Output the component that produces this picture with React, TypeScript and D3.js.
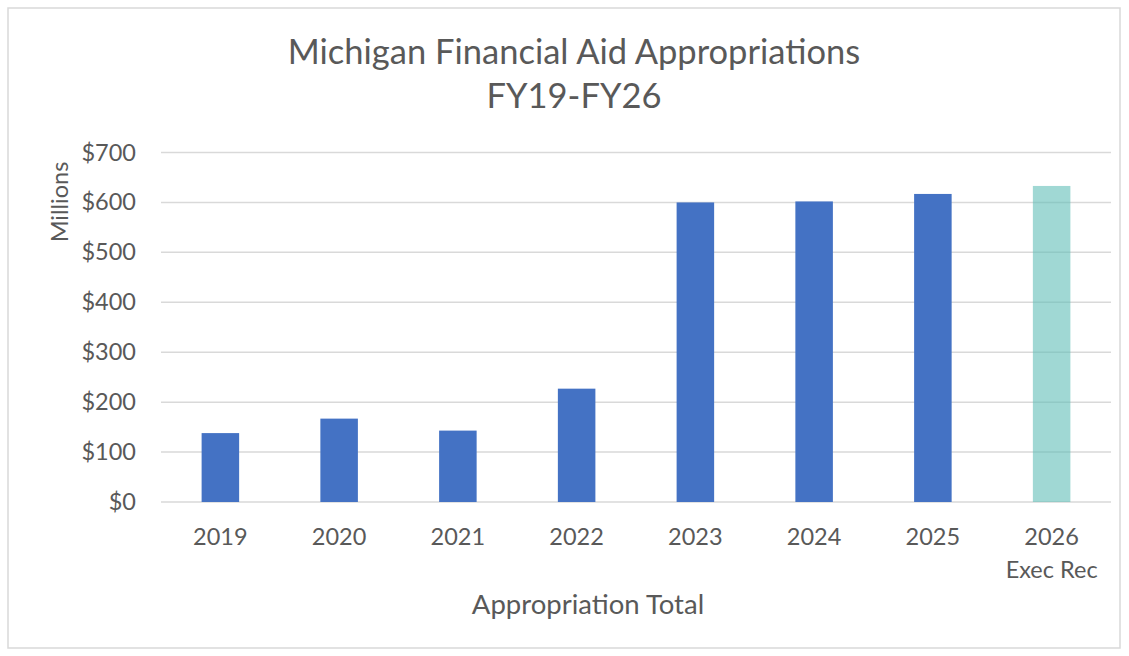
import React from "react";
import * as d3 from "d3";

const categories = ["2019", "2020", "2021", "2022", "2023", "2024", "2025", "2026"];
const subLabels = ["", "", "", "", "", "", "", "Exec Rec"];
const values = [138, 167, 143, 227, 600, 602, 617, 633];
const yTicks = [0, 100, 200, 300, 400, 500, 600, 700];
const titleLines = ["Michigan Financial Aid Appropriations", "FY19-FY26"];

const W = 1129;
const H = 656;
const left = 161;
const right = 1111;
const top = 152.5;
const bottom = 502;
const textColor = "#595959";
const font = "Lato, 'Open Sans', sans-serif";

export default function App() {
  const x = d3.scaleBand<string>().domain(categories).range([left, right]).paddingInner(0.684).paddingOuter(0.342);
  const y = d3.scaleLinear().domain([0, 700]).range([bottom, top]);
  return (
    <svg width={W} height={H} style={{ position: "absolute", left: 0, top: 0, background: "#fff" }} fontFamily={font}>
      <rect x={8} y={8} width={1112} height={640} fill="#fff" stroke="#d9d9d9" strokeWidth={1.5} />
      {titleLines.map((t, i) => (
        <text key={i} x={574} y={64 + i * 44} textAnchor="middle" fontSize={34.5} fill={textColor}>{t}</text>
      ))}
      {yTicks.map((t) => (
        <g key={t}>
          <line x1={left} x2={right} y1={y(t)} y2={y(t)} stroke="#d9d9d9" strokeWidth={1.5} />
          <text x={136} y={y(t) + 8} textAnchor="end" fontSize={23.5} fill={textColor}>{"$" + t}</text>
        </g>
      ))}
      {categories.map((c, i) => {
        const isRec = i === categories.length - 1;
        return (
          <rect key={c} x={x(c)} y={y(values[i])} width={x.bandwidth()} height={y(0) - y(values[i])}
            fill={isRec ? "#61BEB7" : "#4472C4"} fillOpacity={isRec ? 0.6 : 1} />
        );
      })}
      {categories.map((c, i) => (
        <g key={c}>
          <text x={(x(c) as number) + x.bandwidth() / 2} y={545} textAnchor="middle" fontSize={23.5} fill={textColor}>{c}</text>
          {subLabels[i] && (
            <text x={(x(c) as number) + x.bandwidth() / 2} y={578} textAnchor="middle" fontSize={23.5} fill={textColor}>{subLabels[i]}</text>
          )}
        </g>
      ))}
      <text x={588} y={614} textAnchor="middle" fontSize={27.5} fill={textColor}>Appropriation Total</text>
      <text transform={`translate(68,202) rotate(-90)`} textAnchor="middle" fontSize={23.5} fill={textColor}>Millions</text>
    </svg>
  );
}
